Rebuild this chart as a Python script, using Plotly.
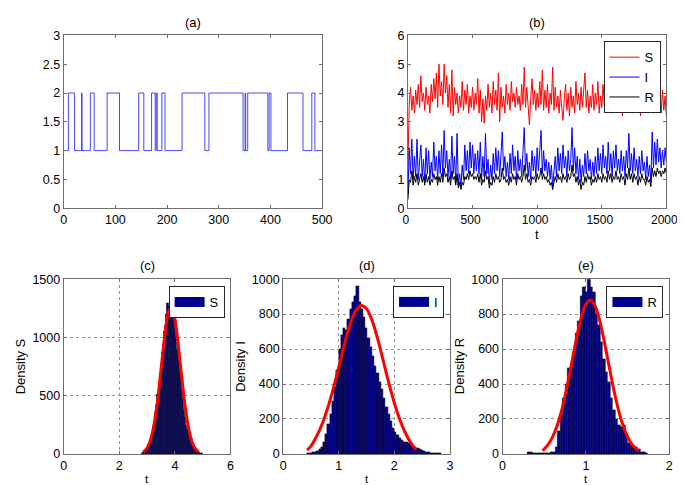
import plotly.graph_objects as go

# ---------------- (a) Markov chain state ----------------
switch_t = [0, 9, 21, 34.5, 35.5, 51.5, 59, 84, 108, 145, 155, 170, 177, 179, 181, 190, 196,
            229, 273, 281, 347, 351, 352, 356, 395, 397.5, 401, 433, 463, 480, 486, 500]
switch_state = [1, 2, 1, 2, 1, 2, 1, 2, 1, 2, 1, 2, 1, 2, 1, 2, 1,
                2, 1, 2, 1, 2, 1, 2, 1, 2, 1, 2, 1, 2, 1, 1]

# ---------------- (b) S, I, R time series ----------------
t_b = list(range(0, 2001, 10))
S_b = [1.5,
       3.6, 4.2, 3.4, 3.9, 3.3, 4.1, 3.6, 4.3, 3.5, 4.6,
       3.7, 4.0, 3.4, 4.2, 3.6, 3.9, 3.3, 4.3, 3.7, 4.5,
       3.8, 4.7, 3.5, 5.0, 3.9, 4.4, 3.6, 5.0, 4.0, 4.6,
       3.5, 4.3, 3.3, 4.8, 3.2, 4.2, 3.6, 4.0, 3.3, 3.9,
       3.5, 4.4, 3.4, 4.1, 3.6, 4.3, 3.3, 3.9, 3.5, 4.2,
       3.4, 4.0, 3.6, 4.5, 3.3, 4.1, 3.0, 3.8, 2.95, 3.9,
       3.4, 4.3, 3.5, 4.0, 3.3, 4.4, 3.6, 4.1, 3.4, 4.7,
       3.0, 4.2, 3.5, 3.9, 3.3, 4.3, 3.6, 4.0, 3.4, 4.4,
       3.7, 4.0, 3.5, 4.2, 3.6, 3.9, 3.4, 4.3, 3.6, 4.9,
       3.5, 4.2, 3.3, 2.9, 3.8, 4.5, 3.6, 4.1, 3.4, 4.0,
       3.5, 4.4, 3.6, 4.8, 3.4, 4.1, 3.5, 4.3, 3.3, 4.0,
       3.6, 4.9, 3.4, 4.2, 3.5, 3.9, 3.3, 4.1, 3.5, 3.05,
       3.8, 4.3, 3.4, 4.0, 3.2, 4.2, 3.5, 3.9, 3.3, 4.4,
       3.6, 4.0, 3.4, 4.2, 3.5, 4.0, 4.7, 3.5, 4.1, 3.3,
       3.9, 3.5, 4.3, 3.4, 4.0, 3.6, 4.4, 3.3, 3.9, 3.5,
       4.3, 3.6, 4.0, 3.4, 4.5, 3.5, 4.1, 3.3, 4.0, 3.6,
       4.4, 3.5, 4.1, 3.4, 3.9, 3.2, 4.3, 3.5, 4.0, 3.4,
       4.6, 3.5, 4.1, 3.3, 4.0, 3.6, 4.3, 3.4, 3.9, 3.2,
       4.2, 3.5, 3.9, 3.4, 4.1, 3.3, 3.8, 3.5, 4.5, 3.3,
       3.9, 3.4, 4.0, 3.5, 3.8, 3.3, 4.1, 3.4, 3.9, 3.2]
I_b = [0.5,
       2.1, 1.2, 2.4, 1.0, 1.8, 1.1, 2.4, 1.0, 1.6, 2.2,
       1.1, 1.7, 0.9, 2.1, 1.2, 2.0, 1.0, 1.6, 1.1, 2.3,
       1.3, 1.8, 1.0, 2.0, 1.2, 2.2, 1.1, 2.7, 1.4, 2.0,
       1.1, 1.7, 1.0, 2.5, 1.2, 1.8, 0.9, 2.6, 0.8, 1.2,
       0.75, 1.5, 1.0, 2.2, 1.3, 2.0, 1.2, 2.3, 1.4, 2.2,
       1.2, 1.9, 1.3, 2.0, 1.2, 2.3, 1.0, 1.8, 1.1, 2.6,
       1.2, 1.7, 0.85, 1.5, 1.0, 1.9, 1.2, 2.1, 1.3, 2.0,
       1.1, 1.7, 2.65, 1.3, 1.8, 1.1, 1.6, 1.0, 1.9, 1.2,
       2.2, 1.3, 1.8, 1.0, 2.0, 1.3, 1.7, 1.1, 1.9, 2.8,
       1.3, 1.9, 1.1, 1.6, 1.0, 2.0, 1.3, 1.8, 1.1, 2.1,
       1.3, 1.9, 2.7, 1.2, 2.0, 1.3, 1.7, 1.1, 1.6, 1.0,
       1.5, 0.75, 1.2, 1.8, 1.1, 2.1, 1.3, 1.9, 1.2, 2.2,
       1.4, 1.8, 1.1, 2.0, 1.3, 1.7, 2.8, 1.3, 2.1, 1.2,
       1.8, 1.0, 1.7, 0.9, 1.5, 1.1, 1.9, 1.2, 2.0, 1.3,
       1.7, 1.0, 1.6, 1.1, 1.8, 1.2, 2.1, 1.3, 1.9, 1.2,
       2.2, 1.4, 1.8, 1.2, 2.3, 1.3, 1.9, 1.1, 2.0, 1.4,
       2.2, 1.3, 1.7, 1.2, 2.0, 1.3, 1.8, 1.1, 2.0, 1.4,
       2.6, 1.3, 1.9, 1.2, 2.1, 1.3, 1.7, 1.1, 1.8, 1.2,
       2.0, 1.3, 1.6, 1.0, 1.8, 1.1, 1.5, 0.9, 2.65, 1.4,
       2.3, 1.5, 2.4, 1.6, 2.1, 1.4, 2.0, 1.5, 2.1, 1.6]
R_b = [0.3,
       1.0, 0.9, 1.3, 0.8, 1.1, 0.9, 1.2, 0.8, 1.0, 1.2,
       0.9, 1.1, 0.8, 1.2, 0.9, 1.1, 0.8, 1.0, 0.9, 1.2,
       1.0, 1.1, 0.8, 1.1, 0.9, 1.2, 0.9, 1.4, 1.1, 1.2,
       0.9, 1.1, 0.8, 1.3, 1.0, 1.1, 0.8, 1.2, 0.7, 0.9,
       0.65, 0.9, 0.8, 1.1, 1.0, 1.2, 1.0, 1.3, 1.1, 1.2,
       1.0, 1.1, 1.0, 1.2, 0.9, 1.2, 0.8, 1.0, 0.9, 1.3,
       1.0, 1.1, 0.7, 0.9, 0.8, 1.1, 0.9, 1.2, 1.0, 1.1,
       0.9, 1.0, 1.4, 1.0, 1.1, 0.9, 1.0, 0.8, 1.1, 0.9,
       1.2, 1.0, 1.1, 0.8, 1.2, 1.0, 1.1, 0.9, 1.1, 1.5,
       1.0, 1.2, 0.9, 1.0, 0.8, 1.1, 1.0, 1.1, 0.9, 1.2,
       1.0, 1.1, 1.4, 1.0, 1.2, 1.0, 1.1, 0.9, 1.0, 0.8,
       0.9, 0.65, 0.9, 1.1, 0.9, 1.2, 1.0, 1.1, 0.9, 1.2,
       1.0, 1.1, 0.9, 1.2, 1.0, 1.1, 1.5, 1.1, 1.2, 0.9,
       1.1, 0.8, 1.0, 0.65, 0.9, 0.8, 1.1, 0.9, 1.2, 1.0,
       1.1, 0.8, 1.0, 0.9, 1.1, 0.9, 1.2, 1.0, 1.1, 0.9,
       1.2, 1.0, 1.1, 0.9, 1.3, 1.0, 1.2, 0.9, 1.1, 1.0,
       1.3, 1.0, 1.1, 0.9, 1.2, 1.0, 1.1, 0.8, 1.2, 1.0,
       1.4, 1.0, 1.2, 0.9, 1.2, 1.0, 1.1, 0.8, 1.1, 0.9,
       1.2, 1.0, 1.0, 0.8, 1.1, 0.9, 1.0, 0.75, 1.4, 1.1,
       1.3, 1.1, 1.4, 1.2, 1.3, 1.1, 1.3, 1.2, 1.4, 1.2]

# ---------------- (c) histogram of S ----------------
c_bin_start, c_bin_width = 2.82, 0.04
c_counts = [10, 15, 22, 30, 44, 60, 86, 108, 146, 180, 236, 280, 355, 420, 515, 585, 690, 760,
            875, 945, 1050, 1105, 1200, 1290, 1265, 1295, 1250, 1245, 1190, 1150, 1060, 1000,
            900, 825, 715, 640, 540, 470, 380, 320, 250, 210, 160, 130, 95, 76, 55, 42, 30, 22,
            16, 12, 9, 6, 4]
c_fit_x = [2.86, 2.96, 3.06, 3.16, 3.26, 3.36, 3.46, 3.56, 3.66, 3.76, 3.86,
           3.96, 4.06, 4.16, 4.26, 4.36, 4.46, 4.56, 4.66, 4.76, 4.86]
c_fit_y = [17, 38, 79, 151, 266, 427, 631, 854, 1060, 1207, 1260,
           1207, 1060, 854, 631, 427, 266, 151, 79, 38, 17]

# ---------------- (d) histogram of I ----------------
d_bin_start, d_bin_width = 0.46, 0.04
d_counts = [3, 5, 8, 12, 18, 28, 40, 70, 115, 170, 230, 300, 380, 480, 600, 680, 720, 710,
            770, 830, 870, 905, 960, 870, 830, 780, 720, 660, 610, 560, 500, 460, 410, 370,
            320, 265, 225, 185, 150, 125, 105, 90, 78, 70, 65, 60, 52, 45, 40, 32, 26, 20,
            16, 12, 9, 7, 5, 4, 3, 2]
d_fit_x = [0.43, 0.5, 0.6, 0.7, 0.8, 0.9, 1.0, 1.1, 1.2, 1.3, 1.4, 1.5, 1.6, 1.7, 1.8,
           1.9, 2.0, 2.1, 2.2, 2.3, 2.39]
d_fit_y = [22, 45, 100, 170, 261, 371, 496, 623, 736, 816, 849, 831, 764, 660, 535,
           408, 292, 196, 120, 62, 24]

# ---------------- (e) histogram of R ----------------
e_bin_start, e_bin_width = 0.32, 0.03
e_counts = [8, 12, 5, 3, 2, 4, 3, 5, 4, 8, 12, 40, 133, 215, 320, 400, 490, 495, 580, 690,
            760, 900, 955, 925, 1000, 955, 925, 800, 735, 640, 540, 470, 410, 320, 250, 200,
            165, 155, 165, 120, 60, 50, 45, 40, 25, 12, 8, 3]
e_fit_x = [0.48, 0.50, 0.55, 0.60, 0.65, 0.70, 0.75, 0.80, 0.85, 0.90, 0.95, 1.00, 1.05,
           1.10, 1.15, 1.20, 1.25, 1.30, 1.35, 1.40, 1.45, 1.50, 1.55, 1.60, 1.63]
e_fit_y = [18, 28, 56, 98, 156, 234, 333, 448, 571, 690, 790, 856, 880,
           856, 790, 690, 571, 448, 333, 234, 156, 98, 56, 30, 18]

W, H = 685, 485
FONT = "Liberation Sans, Arial, Helvetica, sans-serif"
NAVY = "rgb(0,0,143)"
FS = 12.5

fig = go.Figure()

# (a)
fig.add_trace(go.Scatter(x=switch_t, y=switch_state, mode="lines", line_shape="hv",
                         line=dict(color="rgba(40,40,255,0.85)", width=1),
                         showlegend=False, xaxis="x", yaxis="y"))

# (b)
fig.add_trace(go.Scatter(x=t_b, y=S_b, mode="lines", name="S",
                         line=dict(color="rgb(255,0,0)", width=1),
                         xaxis="x2", yaxis="y2", legend="legend"))
fig.add_trace(go.Scatter(x=t_b, y=I_b, mode="lines", name="I",
                         line=dict(color="rgb(0,0,255)", width=1),
                         xaxis="x2", yaxis="y2", legend="legend"))
fig.add_trace(go.Scatter(x=t_b, y=R_b, mode="lines", name="R",
                         line=dict(color="rgb(0,0,0)", width=1),
                         xaxis="x2", yaxis="y2", legend="legend"))


def add_hist(start, width, counts, fx, fy, xa, ya, name, leg):
    centers = [start + i * width for i in range(len(counts))]
    fig.add_trace(go.Bar(x=centers, y=counts, width=width, name=name,
                         marker=dict(color=NAVY, line=dict(color="rgb(0,0,30)", width=0.5)),
                         showlegend=False, xaxis=xa, yaxis=ya))
    # legend entry drawn as a wide swatch
    fig.add_trace(go.Scatter(x=[None], y=[None], mode="lines", name=name,
                             line=dict(color=NAVY, width=10),
                             xaxis=xa, yaxis=ya, legend=leg, showlegend=True))
    fig.add_trace(go.Scatter(x=fx, y=fy, mode="lines", line_shape="spline",
                             line=dict(color="rgb(255,0,0)", width=3),
                             showlegend=False, xaxis=xa, yaxis=ya))


add_hist(c_bin_start, c_bin_width, c_counts, c_fit_x, c_fit_y, "x3", "y3", "S", "legend2")
add_hist(d_bin_start, d_bin_width, d_counts, d_fit_x, d_fit_y, "x4", "y4", "I", "legend3")
add_hist(e_bin_start, e_bin_width, e_counts, e_fit_x, e_fit_y, "x5", "y5", "R", "legend4")

AXC = "rgb(110,110,110)"
base = dict(showline=True, linecolor=AXC, linewidth=1, mirror="ticks", ticks="inside",
            ticklen=3, tickcolor=AXC, zeroline=False, showgrid=False,
            tickfont=dict(size=FS, color="black", family=FONT))
grid = dict(showgrid=True, gridcolor="rgb(150,150,150)", griddash="dot", gridwidth=1)

top_y = [1 - 199 / H, 1 - 21 / H]
bot_y = [1 - 452 / H, 1 - 272 / H]

fig.update_layout(
    width=W, height=H, margin=dict(l=0, r=0, t=0, b=0),
    paper_bgcolor="white", plot_bgcolor="white",
    font=dict(family=FONT, size=FS, color="black"),
    bargap=0,
    xaxis=dict(base, domain=[52 / W, 317 / W], range=[0, 500], dtick=100, anchor="y"),
    yaxis=dict(base, domain=top_y, range=[0, 3], dtick=0.5, anchor="x"),
    xaxis2=dict(base, domain=[405 / W, 670 / W], range=[0, 2000], dtick=500, anchor="y2",
                tickfont=dict(size=12, color="black", family=FONT), ticklabelshift=-2),
    yaxis2=dict(base, domain=top_y, range=[0, 6], dtick=1, anchor="x2"),
    xaxis3=dict(base, **grid, domain=[52 / W, 223 / W], range=[0, 6], dtick=2, anchor="y3"),
    yaxis3=dict(base, **grid, domain=bot_y, range=[0, 1500], dtick=500, anchor="x3"),
    xaxis4=dict(base, **grid, domain=[277 / W, 448 / W], range=[0, 3], dtick=1, anchor="y4"),
    yaxis4=dict(base, **grid, domain=bot_y, range=[0, 1000], dtick=200, anchor="x4"),
    xaxis5=dict(base, **grid, domain=[502 / W, 673 / W], range=[0, 2], dtick=1, anchor="y5"),
    yaxis5=dict(base, **grid, domain=bot_y, range=[0, 1000], dtick=200, anchor="x5"),
)

leg_common = dict(bgcolor="white", bordercolor="rgb(40,40,40)", borderwidth=1,
                  font=dict(size=13, family=FONT, color="black"), itemwidth=30,
                  xanchor="right", yanchor="top", tracegroupgap=0)
fig.update_layout(
    legend=dict(leg_common, x=664 / W, y=1 - 27 / H),
    legend2=dict(leg_common, x=217 / W, y=1 - 279 / H),
    legend3=dict(leg_common, x=442 / W, y=1 - 279 / H),
    legend4=dict(leg_common, x=667 / W, y=1 - 279 / H),
)

ann = []
def text(x, y, s, angle=0, size=13):
    ann.append(dict(x=x / W, y=1 - y / H, xref="paper", yref="paper", text=s, showarrow=False,
                    textangle=angle, xanchor="center", yanchor="middle",
                    font=dict(size=size, family=FONT, color="black")))

text(184.5, 8, "(a)")
text(537.5, 8, "(b)")
text(137.5, 258, "(c)")
text(362.5, 258, "(d)")
text(587.5, 258, "(e)")
text(537.5, 226, "t")
text(137.5, 478, "t", size=11.5)
text(362.5, 478, "t", size=11.5)
text(587.5, 478, "t", size=11.5)
text(8, 362, "Density S", -90)
text(233, 362, "Density I", -90)
text(458, 362, "Density R", -90)
fig.update_layout(annotations=ann)

fig.write_html("out.html")
